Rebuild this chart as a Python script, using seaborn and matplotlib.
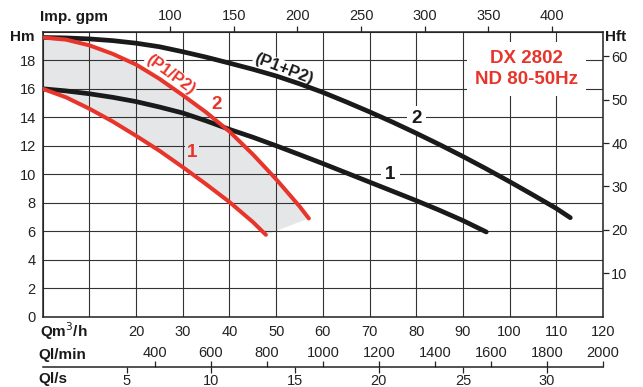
import numpy as np
import matplotlib
matplotlib.use("Agg")
import matplotlib.pyplot as plt
import seaborn as sns

# ---------------- data (Q in m3/h, H in m) ----------------
q_sum = [0, 5, 10, 15, 20, 25, 30, 35, 40, 45, 50, 55, 60, 65, 70, 75, 80, 85, 90, 95, 100, 105, 110, 113]
h_sum = [19.6, 19.57, 19.5, 19.38, 19.2, 18.95, 18.6, 18.22, 17.8, 17.37, 16.9, 16.35, 15.75, 15.08,
         14.38, 13.65, 12.88, 12.08, 11.25, 10.38, 9.48, 8.55, 7.6, 6.95]

q_one = [0, 5, 10, 15, 20, 25, 30, 35, 40, 45, 50, 55, 60, 65, 70, 75, 80, 85, 90, 95]
h_one = [16.0, 15.85, 15.65, 15.4, 15.1, 14.72, 14.3, 13.75, 13.15, 12.6, 12.0, 11.38, 10.75, 10.1,
         9.45, 8.8, 8.15, 7.47, 6.75, 5.95]

q_alt2 = [0, 5, 10, 15, 20, 25, 30, 35, 40, 45, 50, 55, 57]
h_alt2 = [19.6, 19.45, 19.05, 18.45, 17.7, 16.7, 15.55, 14.35, 13.0, 11.4, 9.65, 7.75, 6.9]

q_alt1 = [0, 5, 10, 15, 20, 25, 30, 35, 40, 45, 47.8]
h_alt1 = [16.0, 15.4, 14.6, 13.7, 12.7, 11.65, 10.5, 9.3, 8.05, 6.65, 5.75]

x_ticks = [0, 10, 20, 30, 40, 50, 60, 70, 80, 90, 100, 110, 120]
x_labels = ["", "", "20", "30", "40", "50", "60", "70", "80", "90", "100", "110", "120"]
y_ticks = [0, 2, 4, 6, 8, 10, 12, 14, 16, 18, 20]
y_labels = ["0", "2", "4", "6", "8", "10", "12", "14", "16", "18", ""]
gpm_ticks = [100, 150, 200, 250, 300, 350, 400]
ft_ticks = [10, 20, 30, 40, 50, 60]
lmin_ticks = [400, 600, 800, 1000, 1200, 1400, 1600, 1800, 2000]
ls_ticks = [5, 10, 15, 20, 25, 30]

RED = "#e8352b"
FILL = "#e5e6e8"

sns.set_theme(style="white")
plt.rcParams["font.family"] = ["Liberation Sans", "DejaVu Sans"]

W, H = 643, 387
fig = plt.figure(figsize=(W / 100, H / 100), dpi=100)
L, R, B, T = 42.7, 603, 316.7, 31.8
ax = fig.add_axes([L / W, 1 - B / H, (R - L) / W, (B - T) / H])
ax.set_xlim(0, 120)
ax.set_ylim(0, 20)

# fill region between the two red curves
ax.fill(np.concatenate([q_alt2, q_alt1[::-1]]), np.concatenate([h_alt2, h_alt1[::-1]]),
        color=FILL, zorder=0.2, lw=0)

sns.lineplot(x=q_sum, y=h_sum, ax=ax, color="#1a1a1a", lw=3.4, sort=False, estimator=None, zorder=3)
sns.lineplot(x=q_one, y=h_one, ax=ax, color="#1a1a1a", lw=3.4, sort=False, estimator=None, zorder=3)
sns.lineplot(x=q_alt2, y=h_alt2, ax=ax, color=RED, lw=2.9, sort=False, estimator=None, zorder=4)
sns.lineplot(x=q_alt1, y=h_alt1, ax=ax, color=RED, lw=2.9, sort=False, estimator=None, zorder=4)

ax.set_xticks(x_ticks)
ax.set_xticklabels(x_labels)
ax.set_yticks(y_ticks)
ax.set_yticklabels(y_labels)
ax.set_axisbelow(True)
ax.grid(True, color="#333333", lw=0.8)
ax.tick_params(axis="both", length=0, labelsize=10.5, colors="#222222")
ax.tick_params(axis="x", pad=6)
ax.tick_params(axis="y", pad=5)
for s in ax.spines.values():
    s.set_color("#222222")
    s.set_linewidth(1.1)

# top axis: imp. gpm
gpm = 1000 / 60 / 4.54609
top = ax.secondary_xaxis("top", functions=(lambda q: q * gpm, lambda g: g / gpm))
top.set_xticks(gpm_ticks)
top.tick_params(length=4, width=0.9, labelsize=10.5, pad=2, colors="#222222")
top.spines["top"].set_visible(False)

# right axis: Hft
rt = ax.secondary_yaxis("right", functions=(lambda m: m / 0.3048, lambda f: f * 0.3048))
rt.set_yticks(ft_ticks)
rt.tick_params(length=4, width=0.9, labelsize=10.5, pad=2, colors="#222222")
rt.spines["right"].set_visible(False)

# bottom flow scales (l/min above, l/s below)
yb = 366.7
axb = fig.add_axes([L / W, 1 - yb / H, (R - L) / W, 0.0001])
axb.set_xlim(0, 2000)
axb.set_facecolor("none")
for k in ["left", "right", "bottom"]:
    axb.spines[k].set_visible(False)
axb.spines["top"].set_color("#222222")
axb.spines["top"].set_linewidth(1.1)
axb.set_yticks([])
axb.xaxis.set_ticks_position("top")
axb.xaxis.set_label_position("top")
axb.set_xticks(lmin_ticks)
axb.tick_params(axis="x", length=4, width=0.9, labelsize=10.5, pad=1, colors="#222222", direction="out")
ls = axb.secondary_xaxis("bottom", functions=(lambda v: v / 60, lambda s: s * 60))
ls.set_xticks(ls_ticks)
ls.tick_params(length=4, width=0.9, labelsize=10.5, pad=1.5, colors="#222222")
ls.spines["bottom"].set_visible(False)

# axis titles
fb = dict(fontweight="bold", fontsize=11, color="#1a1a1a")
fig.text(40 / W, 1 - 17 / H, "Imp. gpm", ha="left", va="center", **fb)
fig.text(35 / W, 1 - 37 / H, "Hm", ha="right", va="center", **fb)
fig.text(605 / W, 1 - 37 / H, "Hft", ha="left", va="center", **fb)
fig.text(40 / W, 1 - 331 / H, "Qm$^3$/h", ha="left", va="center", **fb)
fig.text(38 / W, 1 - 355 / H, "Ql/min", ha="left", va="center", **fb)
fig.text(38 / W, 1 - 379 / H, "Ql/s", ha="left", va="center", **fb)

# curve labels
wbox = dict(facecolor="white", edgecolor="none", pad=1.0)
ax.text(51.6, 17.35, "(P1+P2)", rotation=-21, ha="center", va="center", fontsize=12,
        fontweight="bold", color="#1a1a1a", bbox=wbox, zorder=1, rotation_mode="anchor")
ax.text(27.4, 17.0, "(P1/P2)", rotation=-36, ha="center", va="center", fontsize=12,
        fontweight="bold", color=RED, bbox=wbox, zorder=1, rotation_mode="anchor")
ax.text(37.3, 14.9, "2", ha="center", va="center", fontsize=13.5, fontweight="bold", color=RED,
        bbox=wbox, zorder=1)
ax.text(32.0, 11.5, "1", ha="center", va="center", fontsize=13.5, fontweight="bold", color=RED,
        bbox=dict(facecolor=FILL, edgecolor="none", pad=1.5), zorder=1)
ax.text(80.0, 13.9, "2", ha="center", va="center", fontsize=13.5, fontweight="bold", color="#1a1a1a",
        bbox=dict(facecolor="white", edgecolor="none", pad=3), zorder=1)
ax.text(74.5, 9.95, "1", ha="center", va="center", fontsize=13.5, fontweight="bold", color="#1a1a1a",
        bbox=dict(facecolor="white", edgecolor="none", pad=3), zorder=1)

# model box
ax.text(103.6, 17.37, "DX 2802\nND 80-50Hz", ha="center", va="center", fontsize=13.5,
        fontweight="bold", color=RED, linespacing=1.3,
        bbox=dict(facecolor="white", edgecolor="none", pad=6), zorder=1)

fig.savefig("out.png", dpi=100)
